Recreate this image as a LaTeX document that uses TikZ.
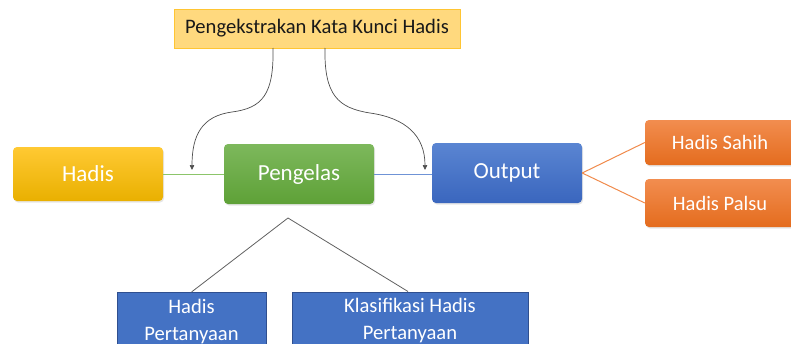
\documentclass[tikz,border=0pt]{standalone}
\usepackage{fontspec}
\setmainfont{Carlito}
\usetikzlibrary{arrows.meta,shadows}
\definecolor{topfill}{HTML}{FFD97E}
\definecolor{topdraw}{HTML}{FFC533}
\definecolor{goldT}{HTML}{FFC933}
\definecolor{goldB}{HTML}{E9B000}
\definecolor{greenT}{HTML}{7DB85C}
\definecolor{greenB}{HTML}{5EA137}
\definecolor{blueT}{HTML}{5A85D2}
\definecolor{blueB}{HTML}{3A66BE}
\definecolor{orT}{HTML}{F28D4F}
\definecolor{orB}{HTML}{E46C1E}
\definecolor{flatblue}{HTML}{4472C4}
\definecolor{darkblue}{HTML}{2F4F8F}
\definecolor{linkgreen}{HTML}{8CC56A}
\definecolor{linkblue}{HTML}{6F93D6}
\definecolor{linkorange}{HTML}{F08A4B}
\definecolor{linkgray}{HTML}{606060}
\tikzset{
  sbox/.style={rounded corners=4pt, minimum width=150pt, text=white, font=\fontsize{23}{27}\selectfont,
    drop shadow={opacity=0.2, shadow xshift=1pt, shadow yshift=-1.5pt}},
  goldbox/.style={sbox, top color=goldT, bottom color=goldB, minimum height=54pt},
  greenbox/.style={sbox, top color=greenT, bottom color=greenB, minimum height=60pt},
  bluebox/.style={sbox, top color=blueT, bottom color=blueB, minimum height=60pt},
  orbox/.style={sbox, top color=orT, bottom color=orB, font=\fontsize{20.5}{24}\selectfont},
  flatbox/.style={draw=darkblue, line width=0.8pt, fill=flatblue, text=white, align=center,
    font=\fontsize{20.6}{27}\selectfont, minimum height=58pt, anchor=north, inner ysep=1pt},
  curvearrow/.style={draw=linkgray!80!black, line width=0.7pt, -{Triangle[length=5pt,width=4.5pt]}},
}
\begin{document}
\begin{tikzpicture}[x=1pt,y=-1pt]
\useasboundingbox (0,0) rectangle (791,343);
\clip (0,0) rectangle (791,343);
% top box
\node[draw=topdraw, fill=topfill, line width=0.8pt, minimum width=286pt, minimum height=39pt,
      font=\fontsize{20.6}{24}\selectfont, text=black!90] (top) at (317,28.5) {Pengekstrakan Kata Kunci Hadis};
% main boxes
\node[goldbox] (hadis) at (88,174) {Hadis};
\node[greenbox] (peng) at (299,174) {Pengelas};
\node[bluebox] (out) at (507,173) {Output};
\node[orbox, minimum width=150pt, minimum height=45pt] (sahih) at (720,142.5) {Hadis Sahih};
\node[orbox, minimum width=150pt, minimum height=48pt] (palsu) at (720,203) {Hadis Palsu};
% bottom boxes
\node[flatbox, minimum width=149pt] (hp) at (191.5,292) {Hadis\\Pertanyaan};
\node[flatbox, minimum width=236pt] (kh) at (410,291.5) {Klasifikasi Hadis\\Pertanyaan};
% connectors
\draw[linkgreen, line width=1pt] (hadis.east) -- (peng.west);
\draw[linkblue, line width=1pt] (peng.east) -- (out.west |- peng.east);
\draw[linkorange, line width=1pt] (out.east) -- (sahih.west);
\draw[linkorange, line width=1pt] (out.east) -- (palsu.west);
\coordinate (apex) at (288,218);
\draw[linkgray, line width=0.8pt] (hp.north) -- (apex) -- (kh.north -| 408,0);
% curved arrows
\coordinate (tl) at (273,48);
\coordinate (tr) at (325,48);
\coordinate (al) at (192,170);
\coordinate (ar) at (425,170);
\draw[curvearrow] (tl) .. controls (274,95) and (262,108) .. (232,112) .. controls (202,116) and (192,135) .. (al);
\draw[curvearrow] (tr) .. controls (324,95) and (338,108) .. (370,113) .. controls (405,118) and (425,135) .. (ar);
\end{tikzpicture}
\end{document}
